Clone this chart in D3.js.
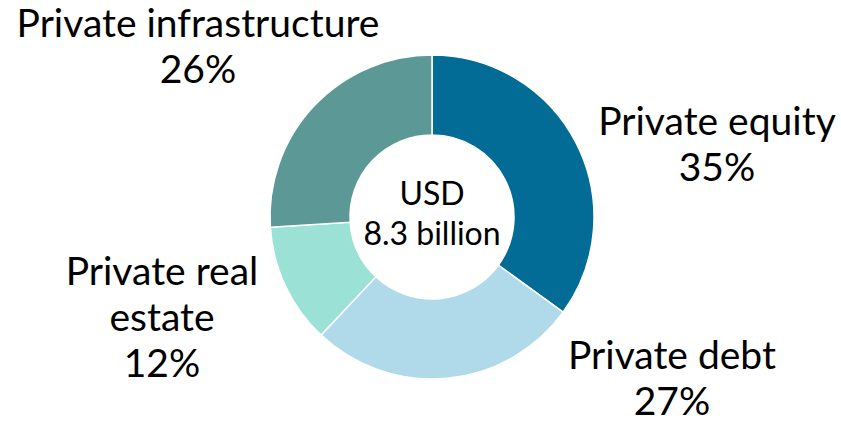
<!DOCTYPE html>
<html>
<head>
<meta charset="utf-8">
<script src="https://cdn.jsdelivr.net/npm/d3@7"></script>
<style>
  html, body { margin: 0; padding: 0; background: #ffffff; }
  svg { display: block; font-family: Lato, "Open Sans", sans-serif; }
</style>
</head>
<body>
<svg id="chart" width="841" height="422"></svg>
<script>
// Allocation by asset class (percent of total)
const categories = ["Private equity", "Private debt", "Private real estate", "Private infrastructure"];
const shares = [35, 27, 12, 26];
const colors = ["#026c97", "#b0d9ea", "#9ce1d6", "#5b9896"];
const centerLines = ["USD", "8.3 billion"];

// Label text lines and anchor positions for each slice
const labelLines = [
  ["Private equity", "35%"],
  ["Private debt", "27%"],
  ["Private real", "estate", "12%"],
  ["Private infrastructure", "26%"]
];
const labelPos = [
  [717, 135],
  [672, 369],
  [162, 285],
  [198, 37]
];

const svg = d3.select("#chart");
const cx = 432, cy = 217, outerR = 162, innerR = 82;

const pie = d3.pie().sort(null).value(d => d)(shares);
const arc = d3.arc().innerRadius(innerR).outerRadius(outerR);
const color = d3.scaleOrdinal().domain(categories).range(colors);

const g = svg.append("g").attr("transform", `translate(${cx},${cy})`);
g.selectAll("path")
  .data(pie)
  .join("path")
  .attr("d", arc)
  .attr("fill", (d, i) => color(categories[i]))
  .attr("stroke", "#ffffff")
  .attr("stroke-width", 1.5);

// Center caption
g.append("text")
  .attr("text-anchor", "middle")
  .attr("font-size", 32)
  .attr("fill", "#000")
  .selectAll("tspan")
  .data(centerLines)
  .join("tspan")
  .attr("x", 0)
  .attr("y", (d, i) => -12 + i * 40)
  .text(d => d);

// Slice labels
const lineH = 46;
svg.selectAll("text.lbl")
  .data(labelLines)
  .join("text")
  .attr("class", "lbl")
  .attr("text-anchor", "middle")
  .attr("font-size", 39)
  .attr("fill", "#000")
  .each(function(lines, i) {
    d3.select(this).selectAll("tspan")
      .data(lines)
      .join("tspan")
      .attr("x", labelPos[i][0])
      .attr("y", (d, j) => labelPos[i][1] + j * lineH)
      .text(d => `${d}`);
  });
</script>
</body>
</html>
